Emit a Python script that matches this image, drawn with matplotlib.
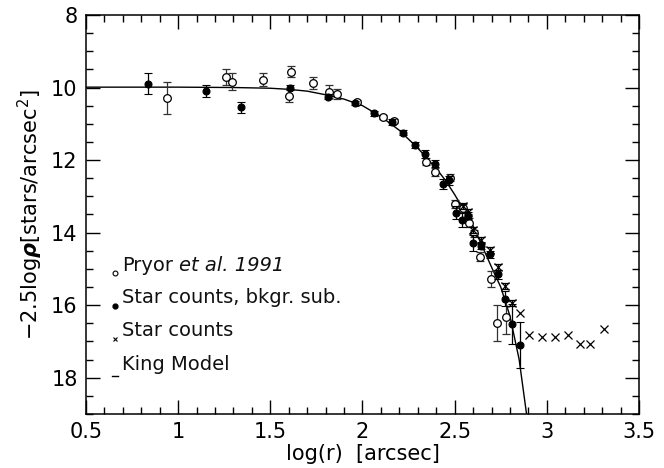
import matplotlib.pyplot as plt
from matplotlib.ticker import MultipleLocator

# Pryor et al. 1991 (open circles)
pryor_x = [0.937, 1.26, 1.29, 1.459, 1.603, 1.611, 1.733, 1.82, 1.86, 1.972, 2.113, 2.17,
           2.345, 2.395, 2.475, 2.502, 2.544, 2.58, 2.605, 2.638, 2.696, 2.728, 2.779]
pryor_y = [10.29, 9.71, 9.84, 9.79, 10.23, 9.56, 9.88, 10.11, 10.17, 10.4, 10.82, 10.93,
           12.05, 12.33, 12.49, 13.2, 13.32, 13.73, 14.02, 14.66, 15.28, 16.5, 16.34]
pryor_err = [0.45, 0.21, 0.23, 0.18, 0.18, 0.16, 0.17, 0.17, 0.14, 0.06, 0.06, 0.06,
             0.1, 0.12, 0.1, 0.11, 0.1, 0.12, 0.1, 0.12, 0.23, 0.49, 0.46]

# star counts, background subtracted (filled circles)
sub_x = [0.838, 1.153, 1.34, 1.607, 1.815, 1.96, 2.063, 2.159, 2.222, 2.285, 2.341, 2.394,
         2.435, 2.471, 2.508, 2.538, 2.574, 2.601, 2.645, 2.692, 2.737, 2.775, 2.813, 2.855]
sub_y = [9.9, 10.09, 10.55, 10.0, 10.25, 10.43, 10.71, 10.95, 11.25, 11.59, 11.84, 12.1,
         12.67, 12.56, 13.45, 13.65, 13.53, 14.29, 14.36, 14.6, 15.15, 15.82, 16.52, 17.1]
sub_err = [0.29, 0.17, 0.15, 0.08, 0.07, 0.06, 0.07, 0.07, 0.07, 0.08, 0.11, 0.1,
           0.14, 0.12, 0.17, 0.2, 0.1, 0.23, 0.1, 0.1, 0.12, 0.2, 0.56, 0.64]

# raw star counts (crosses); the inner ones carry small error bars
raw_x = [2.544, 2.575, 2.6, 2.645, 2.692, 2.737, 2.775, 2.811, 2.855,
         2.905, 2.973, 3.045, 3.114, 3.18, 3.235, 3.312]
raw_y = [13.26, 13.42, 13.93, 14.2, 14.47, 14.95, 15.48, 15.94, 16.23,
         16.83, 16.89, 16.89, 16.81, 17.08, 17.08, 16.65]
raw_err = [0.08, 0.08, 0.08, 0.08, 0.08, 0.08, 0.08, 0.08]

# King model
king_x = [0.5, 1.0, 1.3, 1.5, 1.6, 1.7, 1.8, 1.9, 2.0, 2.1, 2.2, 2.3, 2.4, 2.45,
          2.5, 2.55, 2.6, 2.65, 2.7, 2.75, 2.8, 2.85, 2.89]
king_y = [9.99, 9.99, 10.0, 10.02, 10.05, 10.1, 10.2, 10.32, 10.5, 10.8, 11.18, 11.67, 12.23, 12.56,
          12.95, 13.38, 13.82, 14.38, 14.95, 15.5, 16.3, 17.5, 19.0]

legend_labels = ["Pryor", "Star counts, bkgr. sub.", "Star counts", "King Model"]
legend_y = [14.9, 15.8, 16.7, 17.65]

fig = plt.figure(figsize=(6.64, 4.68), dpi=100)
ax = fig.add_axes([0.1295, 0.1155, 0.8328, 0.8525])

ax.plot(king_x, king_y, color="black", lw=1.0, zorder=2)

ax.errorbar(pryor_x, pryor_y, yerr=pryor_err, fmt="o", mfc="white", mec="black", ms=5.5,
            mew=0.9, ecolor="#333333", elinewidth=0.9, capsize=3, capthick=0.9, zorder=3)
ax.errorbar(sub_x, sub_y, yerr=sub_err, fmt="o", color="black", ms=5, mew=0.8,
            ecolor="black", elinewidth=0.9, capsize=3, capthick=0.9, zorder=4)
n = len(raw_err)
ax.errorbar(raw_x[:n], raw_y[:n], yerr=raw_err, fmt="none", ecolor="black",
            elinewidth=0.9, capsize=3, capthick=0.9, zorder=4)
ax.plot(raw_x, raw_y, "x", color="black", ms=5.5, mew=0.9, zorder=4)

# labels drawn inside the axes, like the original
ax.plot(0.657, legend_y[0] + 0.22, "o", mfc="white", mec="black", ms=3.5, mew=0.8)
ax.plot(0.657, legend_y[1] + 0.22, "o", color="black", ms=3.5)
ax.plot(0.657, legend_y[2] + 0.22, "x", color="black", ms=3.5, mew=0.8)
ax.plot([0.64, 0.672], [legend_y[3] + 0.3, legend_y[3] + 0.3], color="black", lw=1)
for lab, yy in zip(legend_labels, legend_y):
    ax.text(0.695, yy, lab, fontsize=14, va="center", ha="left", color="#111111")
ax.text(1.005, legend_y[0], "et al. 1991", fontsize=14, fontstyle="italic",
        va="center", ha="left", color="#111111")

ax.set_xlim(0.5, 3.5)
ax.set_ylim(19, 8)
ax.xaxis.set_major_locator(MultipleLocator(0.5))
ax.xaxis.set_minor_locator(MultipleLocator(0.1))
ax.yaxis.set_major_locator(MultipleLocator(2))
ax.yaxis.set_minor_locator(MultipleLocator(0.5))
ax.set_xticks([0.5, 1, 1.5, 2, 2.5, 3, 3.5])
ax.set_xticklabels(["0.5", "1", "1.5", "2", "2.5", "3", "3.5"])
ax.tick_params(which="both", direction="in", top=True, right=True, labelsize=15, width=1)
ax.tick_params(which="major", length=10, pad=6)
ax.tick_params(which="minor", length=5)
for s in ax.spines.values():
    s.set_linewidth(1.1)

ax.set_xlabel("log(r)  [arcsec]", fontsize=15, labelpad=1)
ax.set_ylabel(r"$-$2.5log$\boldsymbol{\rho}$[stars/arcsec$^2$]", fontsize=15, labelpad=4)

plt.savefig("out.png", dpi=100)
